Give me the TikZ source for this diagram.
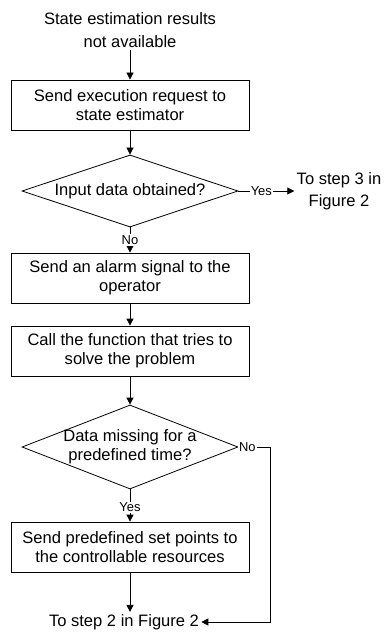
\documentclass[tikz,border=0pt]{standalone}
\usepackage{fontspec}
\setmainfont{Liberation Sans}
\usetikzlibrary{shapes.geometric,arrows.meta}

\begin{document}
\begin{tikzpicture}[
	x=1bp, y=-1bp,
	line width=0.8bp,
	>={Triangle[length=7bp,width=7bp]},
	txt/.style={font=\fontsize{16.6}{19}\selectfont, align=center},
	box/.style={txt, draw, minimum width=238bp, minimum height=50bp, inner sep=0pt},
	decision/.style={txt, draw, diamond, aspect=2.5, inner sep=-2bp, minimum width=216bp},
	lbl/.style={font=\fontsize{13}{15}\selectfont, fill=white, inner sep=1bp},
	%term/.style={txt, inner sep=2bp}
]
	\useasboundingbox (0,0) rectangle (383,632);

	\node[txt, font=\fontsize{16.6}{23}\selectfont, inner sep=2bp] at (130,30) (start) {State estimation results\\not available};
	\node[box] at (130,105) (request) {Send execution request to\\state estimator};
	\node[decision, minimum height=72bp] at (130,191) (obtained) {Input data obtained?};
	\node[txt, font=\fontsize{16.6}{22}\selectfont, inner sep=2bp] at (339,191) (step3) {To step 3 in\\Figure 2};
	\node[box] at (130,278) (alarm) {Send an alarm signal to the\\operator};
	\node[box] at (130,351) (solve) {Call the function that tries to\\solve the problem};
	\node[decision, minimum height=84bp] at (130,447) (missing) {Data missing for a\\predefined time?};
	\node[box] at (130,547) (setpts) {Send predefined set points to\\the controllable resources};
	\node[txt, inner sep=2bp] at (124,622) (step2) {To step 2 in Figure 2};

	\draw[->] (start) -- (request);
	\draw[->] (request) -- (obtained);
	\draw[->] (obtained) -- node[lbl, pos=0.41] {Yes} (step3);
	\draw[->] (obtained) -- node[lbl] {No} (alarm);
	\draw[->] (alarm) -- (solve);
	\draw[->] (solve) -- (missing);
	\draw[->] (missing) -- node[lbl, pos=0.55] {Yes} (setpts);
	\draw[->] (setpts.south) -- (setpts.south |- step2.north);
	\draw[->] (missing.east) -- node[lbl, pos=0.28] {No} ++(32,0) |- (step2.east);
\end{tikzpicture}
\end{document}
